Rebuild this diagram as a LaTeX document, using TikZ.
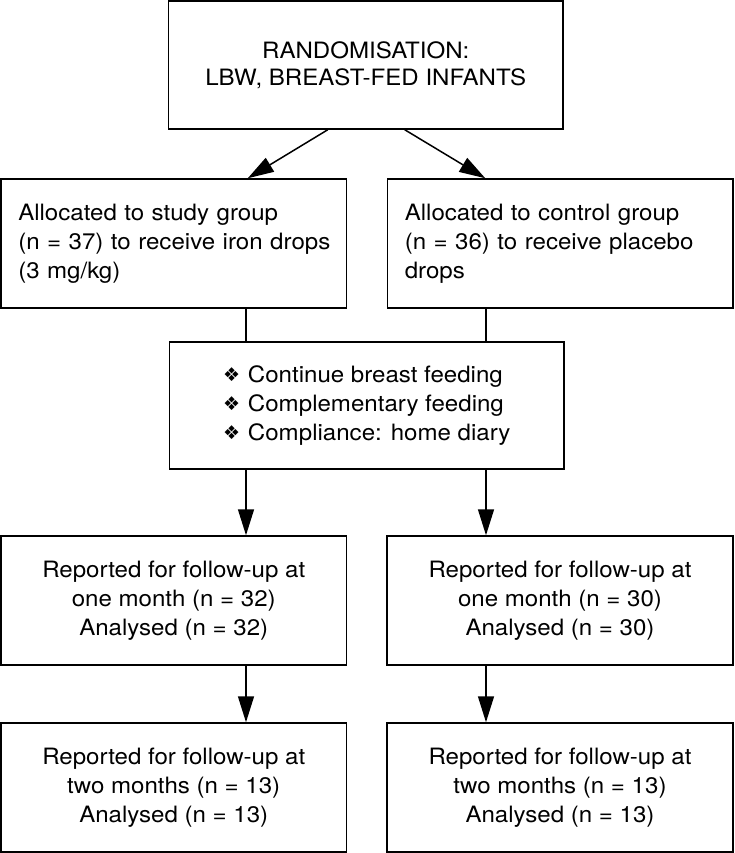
\documentclass[tikz,border=0pt]{standalone}
\usepackage{fontspec}
\setmainfont[FakeStretch=1.07]{TeX Gyre Heros}
\newfontfamily\symfont{DejaVu Sans}
\usetikzlibrary{arrows.meta}
\newcommand{\dia}{{\symfont\fontsize{19}{19}\selectfont\raisebox{1pt}{❖}}\hspace{0.35em}}
\hfuzz=100pt
\begin{document}
\begin{tikzpicture}[x=1pt,y=-1pt,
  box/.style={draw, line width=1.5pt, inner sep=0pt, font=\fontsize{22.5}{29}\selectfont},
  lbox/.style={box, align=left, text width=311pt},
  arr/.style={line width=1.5pt, -{Triangle[length=26pt,width=16pt]}},
  ln/.style={line width=1.5pt}]
\useasboundingbox (0,0) rectangle (734,853);
\coordinate (colL) at (246,0);
\coordinate (colR) at (486,0);
\node[box, minimum width=394.5pt, minimum height=128pt, align=center, font=\fontsize{22.5}{27}\selectfont] (top) at (365.75,65) {RANDOMISATION:\\LBW, BREAST-FED INFANTS};
\node[lbox, minimum width=345.5pt, minimum height=129pt] (L2) at (173.75,243.5) {\mbox{Allocated to study group}\\\mbox{(n = 37) to receive iron drops}\\\mbox{(3 mg/kg)}};
\node[lbox, minimum width=345.5pt, minimum height=129pt] (R2) at (560.25,243.5) {\mbox{Allocated to control group}\\\mbox{(n = 36) to receive placebo}\\\mbox{drops}};
\node[box, minimum width=394.5pt, minimum height=127pt, align=left] (mid) at (366.75,405.5) {\dia Continue breast feeding\\\dia Complementary feeding\\\dia Compliance: home diary};
\node[box, minimum width=345.5pt, minimum height=129pt, align=center] (L3) at (173.75,600.5) {Reported for follow-up at\\one month (n = 32)\\Analysed (n = 32)};
\node[box, minimum width=346pt, minimum height=129pt, align=center] (R3) at (560,600.5) {Reported for follow-up at\\one month (n = 30)\\Analysed (n = 30)};
\node[box, minimum width=345.5pt, minimum height=129pt, align=center] (L4) at (173.75,787.5) {Reported for follow-up at\\two months (n = 13)\\Analysed (n = 13)};
\node[box, minimum width=346pt, minimum height=129pt, align=center] (R4) at (560,787.5) {Reported for follow-up at\\two months (n = 13)\\Analysed (n = 13)};
\draw[arr] ([xshift=-38pt]top.south) -- ([xshift=74pt]L2.north);
\draw[arr] ([xshift=39pt]top.south) -- ([xshift=-75pt]R2.north);
\draw[ln] (L2.south -| colL) -- (mid.north -| colL);
\draw[ln] (R2.south -| colR) -- (mid.north -| colR);
\draw[arr] (mid.south -| colL) -- (L3.north -| colL);
\draw[arr] (mid.south -| colR) -- (R3.north -| colR);
\draw[arr] (L3.south -| colL) -- (L4.north -| colL);
\draw[arr] (R3.south -| colR) -- (R4.north -| colR);
\end{tikzpicture}
\end{document}
